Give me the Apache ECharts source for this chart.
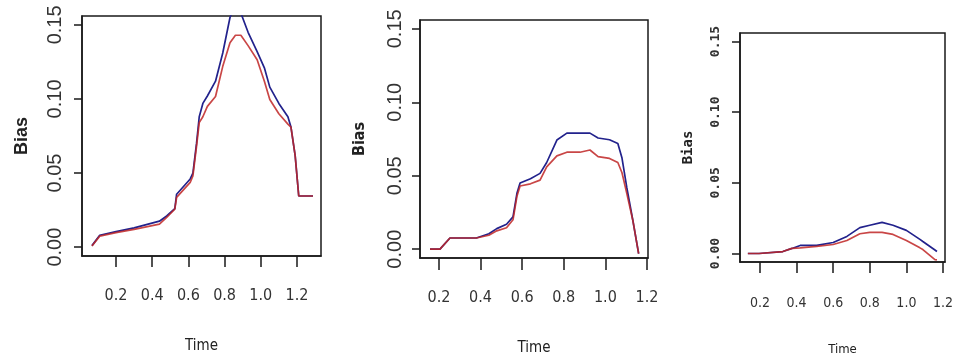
<!DOCTYPE html>
<html>
<head>
<meta charset="utf-8">
<script src="https://cdn.jsdelivr.net/npm/echarts@6/dist/echarts.min.js"></script>
<style>
  html, body { margin: 0; padding: 0; background: #fff; }
  #biasChart { width: 954px; height: 357px; }
</style>
</head>
<body>
<div id="biasChart"></div>
<script>
// values
const xTicks = [0.2, 0.4, 0.6, 0.8, 1.0, 1.2]
const yTicks = [0, 0.05, 0.1, 0.15]

const p1Time = [0.067, 0.11, 0.2, 0.3, 0.44, 0.48, 0.525, 0.535, 0.61, 0.625, 0.645, 0.66, 0.68, 0.705, 0.75, 0.79, 0.83, 0.86, 0.89, 0.93, 0.98, 1.02, 1.05, 1.1, 1.15, 1.167, 1.19, 1.21, 1.289]
const p1Blue = [0.001, 0.008, 0.0105, 0.013, 0.0175, 0.021, 0.026, 0.0357, 0.046, 0.05, 0.07, 0.088, 0.097, 0.102, 0.112, 0.131, 0.155, 0.163, 0.158, 0.145, 0.132, 0.121, 0.108, 0.097, 0.088, 0.081, 0.062, 0.0345, 0.0345]
const p1Red = [0.0007, 0.0074, 0.0098, 0.012, 0.0155, 0.02, 0.0256, 0.0336, 0.0437, 0.048, 0.068, 0.084, 0.088, 0.095, 0.1017, 0.122, 0.138, 0.143, 0.143, 0.136, 0.1265, 0.112, 0.0996, 0.09, 0.083, 0.081, 0.062, 0.0345, 0.0345]

const p2Time = [0.157, 0.205, 0.253, 0.38, 0.44, 0.478, 0.525, 0.556, 0.575, 0.59, 0.64, 0.686, 0.718, 0.767, 0.815, 0.878, 0.926, 0.965, 1.02, 1.06, 1.08, 1.103, 1.133, 1.16]
const p2Blue = [0, 0, 0.0076, 0.0076, 0.0105, 0.014, 0.017, 0.022, 0.038, 0.045, 0.048, 0.0516, 0.059, 0.0743, 0.079, 0.079, 0.079, 0.0757, 0.0745, 0.072, 0.062, 0.042, 0.019, -0.003]
const p2Red = [0, 0, 0.0076, 0.0076, 0.0095, 0.0125, 0.0146, 0.02, 0.036, 0.043, 0.0445, 0.047, 0.056, 0.0635, 0.066, 0.066, 0.0675, 0.063, 0.0618, 0.059, 0.052, 0.038, 0.019, -0.003]

const p3Time = [0.134, 0.195, 0.2, 0.325, 0.375, 0.42, 0.51, 0.6, 0.675, 0.746, 0.8, 0.867, 0.927, 1.0, 1.074, 1.09, 1.156, 1.167]
const p3Blue = [0, 0, 0.0014, 0.0014, 0.0036, 0.0057, 0.0057, 0.0078, 0.0121, 0.0183, 0.02, 0.022, 0.02, 0.0164, 0.01, 0.0085, 0.0025, 0.0014]
const p3Red = [0, 0, 0.0014, 0.0014, 0.0036, 0.004, 0.005, 0.0064, 0.0092, 0.014, 0.0149, 0.0149, 0.0135, 0.0092, 0.004, 0.0028, -0.0043, -0.0045]

const narrow = "'Liberation Sans Narrow', 'DejaVu Sans Condensed', sans-serif"
const regular = "'Liberation Sans', Arial, sans-serif"
const mono = "'DejaVu Sans Mono', 'Liberation Mono', monospace"

// one R-style panel: box, outward ticks, rotated y labels
const panels = [
  {
    time: p1Time, blue: p1Blue, red: p1Red,
    grid: { left: 82, top: 16, width: 239, height: 240 },
    xMin: 0.012, xMax: 1.333,
    xLabel: { fontFamily: narrow, fontSize: 16, margin: 32 },
    yLabel: { fontFamily: regular, fontSize: 20, margin: 17 },
    xName: { fontFamily: narrow, fontSize: 15, gap: 83 },
    yName: { fontFamily: regular, fontSize: 18, gap: 51 },
    xTickLen: 11, yTickLen: 8
  },
  {
    time: p2Time, blue: p2Blue, red: p2Red,
    grid: { left: 420, top: 20, width: 228, height: 238 },
    xMin: 0.109, xMax: 1.205,
    xLabel: { fontFamily: narrow, fontSize: 16, margin: 32 },
    yLabel: { fontFamily: regular, fontSize: 20, margin: 15 },
    xName: { fontFamily: narrow, fontSize: 15, gap: 83 },
    yName: { fontFamily: narrow, fontSize: 16, gap: 52 },
    xTickLen: 12, yTickLen: 8
  },
  {
    time: p3Time, blue: p3Blue, red: p3Red,
    grid: { left: 740, top: 33, width: 205, height: 229 },
    xMin: 0.091, xMax: 1.211,
    xLabel: { fontFamily: narrow, fontSize: 14, margin: 34 },
    yLabel: { fontFamily: mono, fontSize: 13, margin: 18, fontWeight: 'bold' },
    xName: { fontFamily: narrow, fontSize: 13, gap: 81 },
    yName: { fontFamily: mono, fontSize: 14, gap: 45 },
    xTickLen: 11, yTickLen: 8
  }
]

const chartOption = {
  animation: false,
  backgroundColor: '#fff',
  grid: [],
  xAxis: [],
  yAxis: [],
  series: []
}

panels.forEach((p, i) => {
  chartOption.grid.push(Object.assign({
    show: true,
    borderColor: '#1a1a1a',
    borderWidth: 1.5,
    backgroundColor: 'transparent',
    outerBoundsMode: 'none',
    containLabel: false
  }, p.grid))

  chartOption.xAxis.push({
    gridIndex: i,
    type: 'value',
    position: 'bottom',
    min: p.xMin,
    max: p.xMax,
    axisLine: { show: true, onZero: false, lineStyle: { color: '#1a1a1a', width: 1.5 } },
    splitLine: { show: false },
    axisTick: {
      show: true,
      length: p.xTickLen,
      customValues: xTicks,
      lineStyle: { color: '#1a1a1a', width: 1.5 }
    },
    axisLabel: {
      customValues: xTicks,
      formatter: (v) => v.toFixed(1),
      margin: p.xLabel.margin,
      fontSize: p.xLabel.fontSize,
      fontFamily: p.xLabel.fontFamily,
      color: '#333'
    },
    name: 'Time',
    nameLocation: 'middle',
    nameGap: p.xName.gap,
    nameTextStyle: {
      fontSize: p.xName.fontSize,
      fontFamily: p.xName.fontFamily,
      color: '#222'
    }
  })

  chartOption.yAxis.push({
    gridIndex: i,
    type: 'value',
    position: 'left',
    min: -0.006,
    max: 0.156,
    axisLine: { show: true, onZero: false, lineStyle: { color: '#1a1a1a', width: 1.5 } },
    splitLine: { show: false },
    axisTick: {
      show: true,
      length: p.yTickLen,
      customValues: yTicks,
      lineStyle: { color: '#1a1a1a', width: 1.5 }
    },
    axisLabel: {
      customValues: yTicks,
      formatter: (v) => v.toFixed(2),
      rotate: 90,
      margin: p.yLabel.margin,
      fontSize: p.yLabel.fontSize,
      fontFamily: p.yLabel.fontFamily,
      fontWeight: p.yLabel.fontWeight || 'normal',
      color: '#333'
    },
    name: 'Bias',
    nameLocation: 'middle',
    nameGap: p.yName.gap,
    nameTextStyle: {
      fontSize: p.yName.fontSize,
      fontFamily: p.yName.fontFamily,
      fontWeight: 'bold',
      color: '#222'
    }
  })

  chartOption.series.push({
    name: 'blue' + (i + 1),
    type: 'line',
    xAxisIndex: i,
    yAxisIndex: i,
    symbol: 'none',
    clip: true,
    lineStyle: { color: '#22228c', width: 1.7 },
    data: p.time.map((t, k) => [t, p.blue[k]])
  })
  chartOption.series.push({
    name: 'red' + (i + 1),
    type: 'line',
    xAxisIndex: i,
    yAxisIndex: i,
    symbol: 'none',
    clip: true,
    lineStyle: { color: '#c02626', width: 1.7, opacity: 0.85 },
    data: p.time.map((t, k) => [t, p.red[k]])
  })
})

const myChart = echarts.init(document.getElementById('biasChart'))
myChart.setOption(chartOption, true)
</script>
</body>
</html>
